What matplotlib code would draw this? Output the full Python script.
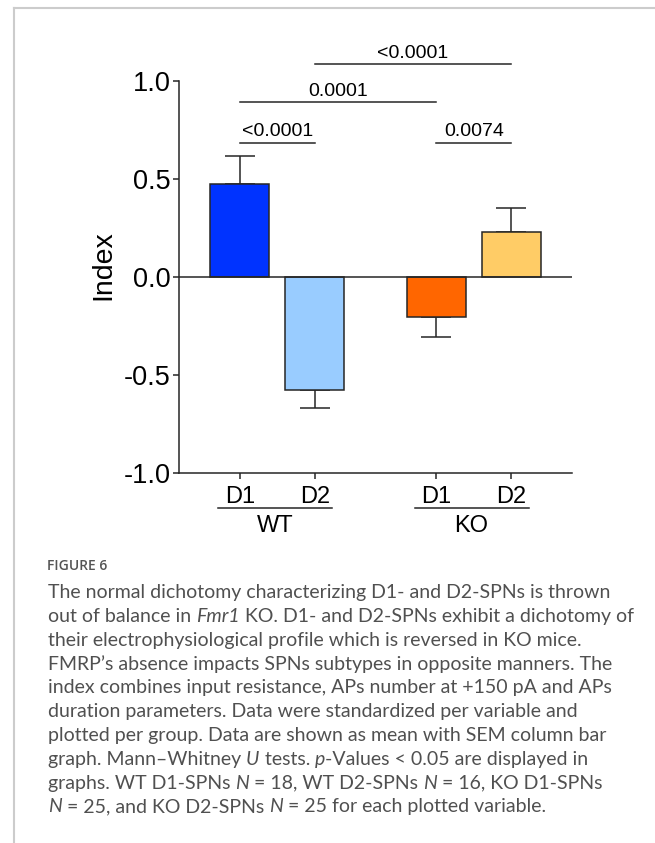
import matplotlib
matplotlib.use("Agg")
import matplotlib.pyplot as plt
import matplotlib.transforms as mtransforms
from matplotlib.lines import Line2D
from matplotlib.font_manager import FontProperties

# data
groups = ["WT", "KO"]
cells = ["D1", "D2", "D1", "D2"]
means = [0.474, -0.577, -0.204, 0.230]
sems = [0.145, 0.090, 0.104, 0.124]
colors = ["#0033ff", "#99ccff", "#ff6600", "#ffcc66"]
pos = [0, 1, 2.62, 3.62]

# p-value brackets: (left bar, right bar, height, label)
brackets = [(0, 1, 0.684, "<0.0001"),
            (2, 3, 0.684, "0.0074"),
            (0, 2, 0.893, "0.0001"),
            (1, 3, 1.085, "<0.0001")]

# caption lines, split in (text, italic) runs
caption = [
    [("The normal dichotomy characterizing D1- and D2-SPNs is thrown", False)],
    [("out of balance in ", False), ("Fmr1", True), (" KO. D1- and D2-SPNs exhibit a dichotomy of", False)],
    [("their electrophysiological profile which is reversed in KO mice.", False)],
    [("FMRP\u2019s absence impacts SPNs subtypes in opposite manners. The", False)],
    [("index combines input resistance, APs number at +150 pA and APs", False)],
    [("duration parameters. Data were standardized per variable and", False)],
    [("plotted per group. Data are shown as mean with SEM column bar", False)],
    [("graph. Mann\u2013Whitney ", False), ("U", True), (" tests. ", False), ("p", True),
     ("-Values < 0.05 are displayed in", False)],
    [("graphs. WT D1-SPNs ", False), ("N", True), (" = 18, WT D2-SPNs ", False), ("N", True),
     (" = 16, KO D1-SPNs", False)],
    [("N", True), (" = 25, and KO D2-SPNs ", False), ("N", True), (" = 25 for each plotted variable.", False)],
]

plt.rcParams["font.family"] = ["Liberation Sans", "DejaVu Sans"]

axc = "#262626"
fig = plt.figure(figsize=(6.55, 8.43), dpi=100)
ax = fig.add_axes([0.2733, 0.4389, 0.6, 0.4650])

for i in range(4):
    ax.bar(pos[i], means[i], width=0.79, color=colors[i], edgecolor=axc,
           linewidth=1.1, zorder=2)
    err = [[0], [sems[i]]] if means[i] > 0 else [[sems[i]], [0]]
    ax.errorbar(pos[i], means[i], yerr=err, fmt="none", ecolor=axc,
                elinewidth=1.1, capsize=10.8, capthick=1.1, zorder=1)

ax.axhline(0, color=axc, lw=1.1, zorder=3)
ax.set_xlim(-0.81, 4.43)
ax.set_ylim(-1.0, 1.0)
ax.set_yticks([-1.0, -0.5, 0.0, 0.5, 1.0])
ax.set_yticklabels(["-1.0", "-0.5", "0.0", "0.5", "1.0"])
ax.set_xticks(pos)
ax.set_xticklabels(cells)
ax.tick_params(axis="y", labelsize=19.5, length=4.5, width=1.1, pad=1.5, color=axc)
ax.tick_params(axis="x", labelsize=17, length=4.5, width=1.1, pad=5, color=axc)
for s in ["top", "right"]:
    ax.spines[s].set_visible(False)
for s in ["left", "bottom"]:
    ax.spines[s].set_linewidth(1.1)
    ax.spines[s].set_color(axc)

fig.text(103 / 655, 1 - 265 / 843, "Index", rotation=90, ha="center", va="center",
         fontsize=20.5)

# significance brackets
for a, b, h, lab in brackets:
    ax.plot([pos[a], pos[b]], [h, h], color=axc, lw=1.1, clip_on=False)
    ax.text((pos[a] + pos[b]) / 2, h + 0.033, lab, ha="center", va="baseline",
            fontsize=14, clip_on=False)

# group labels under the axis
trans = mtransforms.blended_transform_factory(ax.transData, ax.transAxes)
for g, (a, b) in zip(groups, [(0, 1), (2, 3)]):
    x0, x1 = pos[a] - 0.29, pos[b] + 0.23
    ax.add_line(Line2D([x0, x1], [-0.0893, -0.0893], transform=trans, color=axc,
                       lw=1.1, clip_on=False))
    ax.text((x0 + x1) / 2, -0.136, g, transform=trans, ha="center", va="center",
            fontsize=17)

# page frame and caption
fig.add_artist(Line2D([14 / 655, 14 / 655], [0, 1 - 7.5 / 843], color="#cccccc", lw=1.5))
fig.add_artist(Line2D([14 / 655, 1], [1 - 7.5 / 843, 1 - 7.5 / 843], color="#cccccc", lw=1.5))

fig.text(47 / 655, 1 - 566 / 843, "FIGURE 6", fontsize=10, color="#555555",
         family="Open Sans", fontweight="semibold", va="center")

renderer = fig.canvas.get_renderer()
cap_family = "Lato"


def run_width(s, size, italic):
    prop = FontProperties(family=cap_family, size=size, style="italic" if italic else "normal")
    w = renderer.get_text_width_height_descent(s + "|", prop, ismath=False)[0]
    w0 = renderer.get_text_width_height_descent("|", prop, ismath=False)[0]
    return w - w0


# fit the caption size so the first line spans like the original
x0px = 48
w12 = run_width(caption[0][0][0], 12, False)
cap_size = 12 * (609 - x0px) / w12

for k, line in enumerate(caption):
    x = x0px
    y = 1 - (592.7 + 23.8 * k) / 843
    for s, it in line:
        fig.text(x / 655, y, s, fontsize=cap_size, color="#505050", family=cap_family,
                 style="italic" if it else "normal", va="center")
        x += run_width(s, cap_size, it)

fig.savefig("out.png", dpi=100)
